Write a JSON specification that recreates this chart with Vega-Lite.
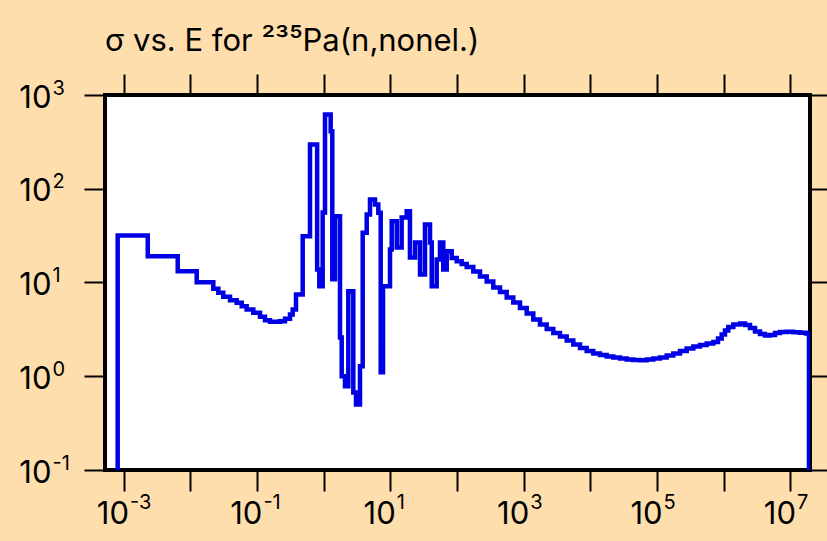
{
  "$schema": "https://vega.github.io/schema/vega-lite/v6.json",
  "width": 705,
  "height": 375,
  "autosize": {"type": "none"},
  "padding": {"left": 105, "top": 95, "right": 17, "bottom": 71},
  "background": "#FDDEAC",
  "config": {
    "view": {"stroke": "black", "strokeWidth": 4, "fill": "white"},
    "font": "Inter"
  },
  "title": {
    "text": "σ vs. E for ²³⁵Pa(n,nonel.)",
    "anchor": "start",
    "frame": "group",
    "baseline": "alphabetic",
    "fontSize": 31,
    "fontWeight": "normal",
    "color": "black",
    "font": "Inter",
    "offset": -9
  },
  "data": {
    "values": [
      {"E": 8.18e-4, "s": 0.001},
      {"E": 8.18e-4, "s": 31.7},
      {"E": 2.31e-3, "s": 19.1},
      {"E": 6.50e-3, "s": 13.2},
      {"E": 1.252e-2, "s": 10.07},
      {"E": 2.22e-2, "s": 8.57},
      {"E": 2.64e-2, "s": 7.77},
      {"E": 3.13e-2, "s": 7.04},
      {"E": 3.95e-2, "s": 6.48},
      {"E": 4.98e-2, "s": 6.07},
      {"E": 5.92e-2, "s": 5.59},
      {"E": 7.03e-2, "s": 5.15},
      {"E": 8.83e-2, "s": 4.75},
      {"E": 0.1113, "s": 4.31},
      {"E": 0.1322, "s": 3.96},
      {"E": 0.1572, "s": 3.81},
      {"E": 0.222, "s": 3.87},
      {"E": 0.2638, "s": 4.10},
      {"E": 0.3134, "s": 4.56},
      {"E": 0.344, "s": 5.15},
      {"E": 0.3857, "s": 7.45},
      {"E": 0.486, "s": 31.2},
      {"E": 0.6254, "s": 296},
      {"E": 0.80, "s": 13.8},
      {"E": 0.862, "s": 9.13},
      {"E": 0.969, "s": 55.8},
      {"E": 1.05, "s": 619},
      {"E": 1.277, "s": 411},
      {"E": 1.35, "s": 10.8},
      {"E": 1.482, "s": 50.9},
      {"E": 1.762, "s": 2.59},
      {"E": 1.868, "s": 1.0},
      {"E": 2.093, "s": 0.783},
      {"E": 2.346, "s": 8.07},
      {"E": 2.788, "s": 0.671},
      {"E": 3.06, "s": 0.4995},
      {"E": 3.513, "s": 1.28},
      {"E": 3.857, "s": 33.9},
      {"E": 4.43, "s": 53.1},
      {"E": 4.96, "s": 76.8},
      {"E": 5.90, "s": 67.9},
      {"E": 6.61, "s": 55.4},
      {"E": 7.18, "s": 1.10},
      {"E": 7.78, "s": 9.13},
      {"E": 9.90, "s": 22.5},
      {"E": 10.5, "s": 45.1},
      {"E": 12.5, "s": 23.6},
      {"E": 14.8, "s": 49.3},
      {"E": 17.6, "s": 57.6},
      {"E": 19.7, "s": 18.5},
      {"E": 23.5, "s": 26.7},
      {"E": 27.9, "s": 12.2},
      {"E": 33.1, "s": 41.6},
      {"E": 39.4, "s": 26.7},
      {"E": 41.8, "s": 9.13},
      {"E": 49.6, "s": 17.6},
      {"E": 55.6, "s": 26.7},
      {"E": 62.3, "s": 13.8},
      {"E": 70.1, "s": 21.6},
      {"E": 83.3, "s": 18.3},
      {"E": 99.0, "s": 16.9},
      {"E": 117.6, "s": 15.75},
      {"E": 139.8, "s": 14.63},
      {"E": 175.6, "s": 13.1},
      {"E": 221.2, "s": 11.59},
      {"E": 278.8, "s": 10.25},
      {"E": 350.2, "s": 8.84},
      {"E": 441.2, "s": 7.92},
      {"E": 556.1, "s": 6.92},
      {"E": 698.4, "s": 6.12},
      {"E": 880.0, "s": 5.35},
      {"E": 1109, "s": 4.67},
      {"E": 1393, "s": 4.03},
      {"E": 1755, "s": 3.56},
      {"E": 2212, "s": 3.19},
      {"E": 2779, "s": 2.89},
      {"E": 3501, "s": 2.65},
      {"E": 4413, "s": 2.41},
      {"E": 5541, "s": 2.18},
      {"E": 6985, "s": 2.00},
      {"E": 8801, "s": 1.86},
      {"E": 11050, "s": 1.75},
      {"E": 13930, "s": 1.685},
      {"E": 17550, "s": 1.625},
      {"E": 22040, "s": 1.585},
      {"E": 27780, "s": 1.547},
      {"E": 35010, "s": 1.509},
      {"E": 43980, "s": 1.49},
      {"E": 55420, "s": 1.483},
      {"E": 69850, "s": 1.509},
      {"E": 87700, "s": 1.547},
      {"E": 110500, "s": 1.585},
      {"E": 139300, "s": 1.665},
      {"E": 175000, "s": 1.75},
      {"E": 220400, "s": 1.86},
      {"E": 277800, "s": 1.977},
      {"E": 348900, "s": 2.076},
      {"E": 439700, "s": 2.154},
      {"E": 554100, "s": 2.235},
      {"E": 696000, "s": 2.32},
      {"E": 818500, "s": 2.527},
      {"E": 930000, "s": 2.788},
      {"E": 1042000, "s": 3.076},
      {"E": 1168000, "s": 3.353},
      {"E": 1388000, "s": 3.56},
      {"E": 1750000, "s": 3.65},
      {"E": 2079000, "s": 3.52},
      {"E": 2470000, "s": 3.27},
      {"E": 2936000, "s": 3.0},
      {"E": 3488000, "s": 2.823},
      {"E": 4147000, "s": 2.72},
      {"E": 4929000, "s": 2.754},
      {"E": 5855000, "s": 2.893},
      {"E": 6961000, "s": 2.965},
      {"E": 8770000, "s": 2.98},
      {"E": 11020000, "s": 2.943},
      {"E": 13880000, "s": 2.908},
      {"E": 17080000, "s": 2.858},
      {"E": 18940000, "s": 0.001}
    ]
  },
  "layer": [
    {
      "mark": {"type": "line", "interpolate": "step-after", "color": "#0000E6", "strokeWidth": 4.5, "clip": true},
      "encoding": {
        "x": {
          "field": "E", "type": "quantitative",
          "scale": {"type": "log", "domain": [5.28e-4, 1.961e7], "nice": false},
          "axis": {
            "orient": "bottom", "title": null, "domain": false, "grid": false,
            "values": [0.001, 0.01, 0.1, 1, 10, 100, 1000, 10000, 100000, 1000000, 10000000],
            "labelExpr": "abs(round(log(datum.value)/LN10)) % 2 == 1 ? '10' : ''",
            "tickSize": 21, "tickWidth": 2, "tickColor": "black",
            "labelFont": "Inter", "labelFontSize": 31, "labelColor": "black",
            "labelAlign": "right", "labelBaseline": "alphabetic", "labelOffset": 5,
            "labelPadding": 32, "labelFlush": false, "labelOverlap": false
          }
        },
        "y": {
          "field": "s", "type": "quantitative",
          "scale": {"type": "log", "domain": [0.1, 1000], "nice": false},
          "axis": {
            "orient": "left", "title": null, "domain": false, "grid": false,
            "values": [0.1, 1, 10, 100, 1000],
            "labelExpr": "'10'",
            "tickSize": 21, "tickWidth": 2, "tickColor": "black",
            "labelFont": "Inter", "labelFontSize": 31, "labelColor": "black",
            "labelAlign": "right", "labelBaseline": "alphabetic", "labelOffset": 12,
            "labelPadding": 33, "labelFlush": false, "labelOverlap": false
          }
        },
        "order": {"value": null}
      }
    },
    {
      "mark": {"type": "line", "opacity": 0},
      "encoding": {
        "x": {
          "field": "E", "type": "quantitative",
          "scale": {"type": "log", "domain": [5.28e-4, 1.961e7], "nice": false},
          "axis": {
            "orient": "top", "title": null, "domain": false, "grid": false, "labels": false,
            "values": [0.001, 0.01, 0.1, 1, 10, 100, 1000, 10000, 100000, 1000000, 10000000],
            "tickSize": 21, "tickWidth": 2, "tickColor": "black"
          }
        },
        "y": {
          "field": "s", "type": "quantitative",
          "scale": {"type": "log", "domain": [0.1, 1000], "nice": false},
          "axis": {
            "orient": "right", "title": null, "domain": false, "grid": false, "labels": false,
            "values": [0.1, 1, 10, 100, 1000],
            "tickSize": 21, "tickWidth": 2, "tickColor": "black"
          }
        },
        "order": {"value": null}
      }
    },
    {
      "mark": {"type": "line", "opacity": 0},
      "encoding": {
        "x": {
          "field": "E", "type": "quantitative",
          "scale": {"type": "log", "domain": [5.28e-4, 1.961e7], "nice": false},
          "axis": {
            "orient": "bottom", "title": null, "domain": false, "grid": false,
            "values": [0.001, 0.01, 0.1, 1, 10, 100, 1000, 10000, 100000, 1000000, 10000000],
            "labelExpr": "abs(round(log(datum.value)/LN10)) % 2 == 1 ? '' + round(log(datum.value)/LN10) : ''",
            "tickSize": 21, "tickWidth": 2, "tickOpacity": 0,
            "labelFont": "Inter", "labelFontSize": 20, "labelColor": "black",
            "labelAlign": "left", "labelBaseline": "alphabetic", "labelOffset": 6,
            "labelPadding": 17, "labelFlush": false, "labelOverlap": false
          }
        },
        "y": {
          "field": "s", "type": "quantitative",
          "scale": {"type": "log", "domain": [0.1, 1000], "nice": false},
          "axis": {
            "orient": "left", "title": null, "domain": false, "grid": false,
            "values": [0.1, 1, 10, 100, 1000],
            "labelExpr": "'' + round(log(datum.value)/LN10)",
            "tickSize": 21, "tickWidth": 2, "tickOpacity": 0,
            "labelFont": "Inter", "labelFontSize": 20, "labelColor": "black",
            "labelAlign": "left", "labelBaseline": "alphabetic", "labelOffset": -1,
            "labelPadding": 32, "labelFlush": false, "labelOverlap": false
          }
        },
        "order": {"value": null}
      }
    }
  ],
  "resolve": {"axis": {"x": "independent", "y": "independent"}}
}
